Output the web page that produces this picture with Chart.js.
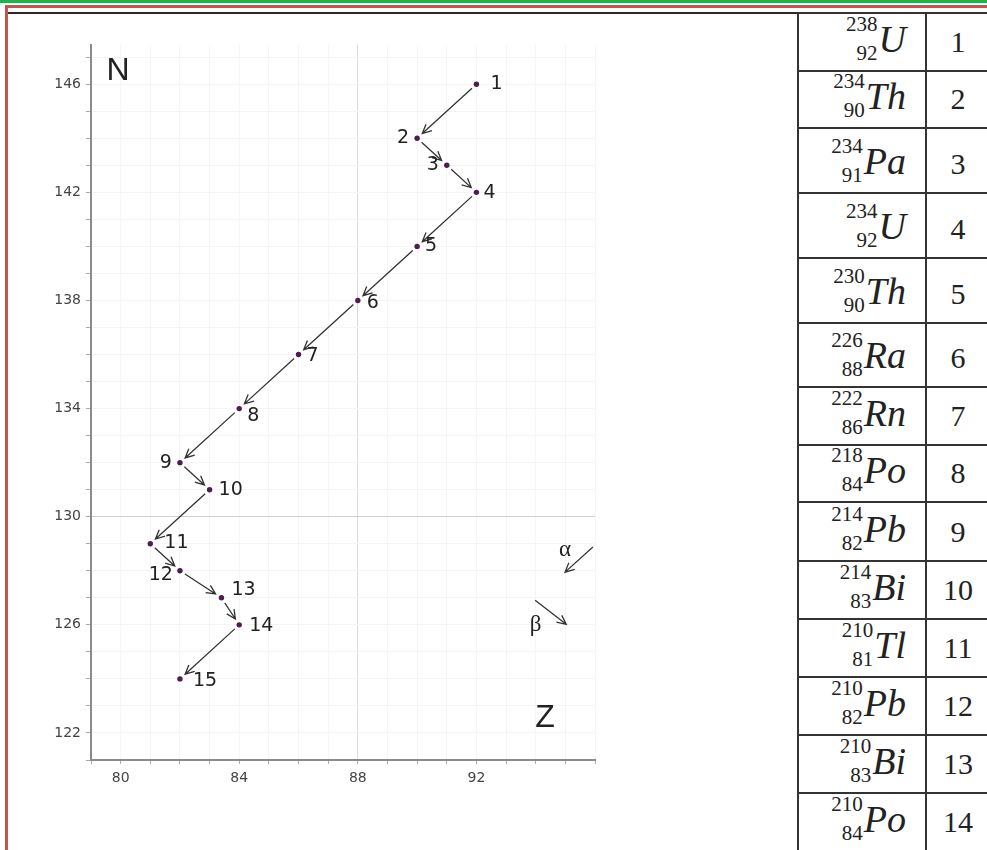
<!DOCTYPE html>
<html lang="en">
<head>
<meta charset="UTF-8">
<title>U-238 decay chain</title>
<script src="https://cdn.jsdelivr.net/npm/chart.js"></script>
<style>
    body { margin: 0; background: #fff; width: 987px; height: 850px; overflow: hidden; position: relative; }
    .bar { position: absolute; }
    .green { left: 0; top: 0; width: 987px; height: 3px; background: #22b14c; }
    .red-top { left: 5px; top: 5px; width: 982px; height: 3px; background: #c9514e; }
    .red-left { left: 5px; top: 5px; width: 3px; height: 845px; background: #c9514e; }
    .black { left: 8px; top: 12px; width: 979px; height: 2px; background: #2a2a2a; }
    #chartBox { position: absolute; left: 10px; top: 10px; width: 600px; height: 800px; }
    .trow { position: absolute; left: 797px; width: 200px; border-top: 2px solid #333; box-sizing: border-box; }
    .cnuc { position: absolute; left: 0; top: 0; bottom: 0; width: 130px; box-sizing: border-box;
            border-left: 2px solid #333; border-right: 2px solid #333;
            display: flex; justify-content: flex-end; align-items: flex-end;
            padding: 0 19px 2px 0; font-family: "Liberation Serif", serif; color: #222; }
    .ms { display: flex; flex-direction: column; align-items: flex-end; font-size: 21px; line-height: 29px; margin-right: 1px; }
    .sym { font-size: 38px; line-height: 38px; font-style: italic; margin-bottom: 10px; }
    .cnum { position: absolute; left: 130px; top: 0; bottom: 0; right: 0; box-sizing: border-box;
            display: flex; justify-content: center; align-items: flex-end; padding: 0 0 13px 0;
            width: 62px; font-family: "Liberation Serif", serif; font-size: 30px; line-height: 30px; color: #222; }
</style>
</head>
<body>
<div class="bar green"></div>
<div class="bar red-top"></div>
<div class="bar red-left"></div>
<div class="bar black"></div>
<div id="chartBox"><canvas id="decayChart"></canvas></div>
<div id="table"></div>
<script>
    // 衰變鏈各點 (Z, N)
    var zValues = [92, 90, 91, 92, 90, 88, 86, 84, 82, 83, 81, 82, 83.4, 84, 82];
    var nValues = [146, 144, 143, 142, 140, 138, 136, 134, 132, 131, 129, 128, 127, 126, 124];
    var pointLabels = ['1', '2', '3', '4', '5', '6', '7', '8', '9', '10', '11', '12', '13', '14', '15'];
    var zTicks = [80, 84, 88, 92];
    var nTicks = [122, 126, 130, 134, 138, 142, 146];

    // 右側表格
    var tableIndex = [1, 2, 3, 4, 5, 6, 7, 8, 9, 10, 11, 12, 13, 14];
    var massNumbers = [238, 234, 234, 234, 230, 226, 222, 218, 214, 214, 210, 210, 210, 210];
    var atomicNumbers = [92, 90, 91, 92, 90, 88, 86, 84, 82, 83, 81, 82, 83, 84];
    var symbols = ['U', 'Th', 'Pa', 'U', 'Th', 'Ra', 'Rn', 'Po', 'Pb', 'Bi', 'Tl', 'Pb', 'Bi', 'Po'];

    // 圖例箭頭 α / β : [起點Z, 起點N, 終點Z, 終點N, 文字Z, 文字N]
    var alphaKey = [95.93, 128.88, 94.99, 127.95, 94.99, 128.77];
    var betaKey = [93.98, 126.91, 95.03, 126.02, 94.0, 125.98];

    // layout only
    var labelPos = [[14, 0, 'left'], [-8, 0, 'right'], [-8, 0, 'right'], [7, 1, 'left'], [8, 0, 'left'],
        [9, 3, 'left'], [8, 2, 'left'], [8, 7, 'left'], [-8, 0, 'right'], [9, 0, 'left'],
        [14, -1, 'left'], [-7, 4, 'right'], [10, -8, 'left'], [10, 1, 'left'], [13, 2, 'left']];
    var rowTops = [12, 70, 127, 192, 257, 322, 386, 444, 501, 560, 618, 676, 734, 792];
    var rowHeights = [58, 57, 65, 65, 65, 64, 58, 57, 59, 58, 58, 58, 58, 58];

    // 表格
    var tableHTML = '';
    tableIndex.forEach(function (item, key) {
        tableHTML += '<div class="trow" style="top:' + rowTops[key] + 'px;height:' + rowHeights[key] + 'px">' +
            '<div class="cnuc"><span class="ms"><span>' + massNumbers[key] + '</span><span>' + atomicNumbers[key] + '</span></span>' +
            '<span class="sym">' + symbols[key] + '</span></div>' +
            '<div class="cnum">' + item + '</div></div>';
    });
    document.getElementById('table').innerHTML = tableHTML;

    function drawArrow(ctx, x1, y1, x2, y2, gap1, gap2) {
        var a = Math.atan2(y2 - y1, x2 - x1);
        var sx = x1 + gap1 * Math.cos(a), sy = y1 + gap1 * Math.sin(a);
        var ex = x2 - gap2 * Math.cos(a), ey = y2 - gap2 * Math.sin(a);
        ctx.beginPath();
        ctx.moveTo(sx, sy);
        ctx.lineTo(ex, ey);
        ctx.moveTo(ex - 10 * Math.cos(a - 0.45), ey - 10 * Math.sin(a - 0.45));
        ctx.lineTo(ex, ey);
        ctx.lineTo(ex - 10 * Math.cos(a + 0.45), ey - 10 * Math.sin(a + 0.45));
        ctx.stroke();
    }

    var decayPlugin = {
        id: 'decayArrows',
        afterDatasetsDraw: function (chart) {
            var ctx = chart.ctx;
            var xs = chart.scales.x, ys = chart.scales.y;
            var area = chart.chartArea;
            ctx.save();
            ctx.strokeStyle = '#333';
            ctx.lineWidth = 1.3;
            for (var i = 0; i < zValues.length - 1; i++) {
                drawArrow(ctx, xs.getPixelForValue(zValues[i]), ys.getPixelForValue(nValues[i]),
                    xs.getPixelForValue(zValues[i + 1]), ys.getPixelForValue(nValues[i + 1]), 6, 7);
            }
            [alphaKey, betaKey].forEach(function (k) {
                drawArrow(ctx, xs.getPixelForValue(k[0]), ys.getPixelForValue(k[1]),
                    xs.getPixelForValue(k[2]), ys.getPixelForValue(k[3]), 0, 0);
            });
            // 點編號
            ctx.fillStyle = '#222';
            ctx.font = '19px "DejaVu Sans"';
            ctx.textBaseline = 'middle';
            pointLabels.forEach(function (item, key) {
                ctx.textAlign = labelPos[key][2];
                ctx.fillText(item, xs.getPixelForValue(zValues[key]) + labelPos[key][0],
                    ys.getPixelForValue(nValues[key]) + labelPos[key][1]);
            });
            ctx.font = '23px "Liberation Serif"';
            ctx.textAlign = 'center';
            ctx.fillText('α', xs.getPixelForValue(alphaKey[4]), ys.getPixelForValue(alphaKey[5]));
            ctx.fillText('β', xs.getPixelForValue(betaKey[4]), ys.getPixelForValue(betaKey[5]));
            // 軸名
            ctx.font = '32px "Liberation Sans"';
            ctx.fillText('N', area.left + 27, area.top + 26);
            ctx.fillText('Z', area.right - 50, area.bottom - 42);
            ctx.restore();
        }
    };

    var ctx01 = document.getElementById('decayChart');
    var chart01 = new Chart(ctx01, {
        type: 'scatter',
        data: {
            datasets: [{
                data: zValues.map(function (z, i) { return { x: z, y: nValues[i] }; }),
                pointRadius: 2.7,
                pointBackgroundColor: '#4e1c4e',
                pointBorderWidth: 0
            }]
        },
        options: {
            responsive: true,
            maintainAspectRatio: false,
            animation: false,
            events: [],
            layout: { padding: { left: 0, right: 15, top: 35, bottom: 10 } },
            plugins: { legend: { display: false }, tooltip: { enabled: false } },
            scales: {
                x: {
                    type: 'linear',
                    min: 79, max: 96,
                    afterFit: function (s) { s.height = 40; },
                    border: { display: true, color: '#8a8a8a', width: 2 },
                    grid: {
                        color: function (c) { return c.tick && c.tick.value === 88 ? '#dcdcdc' : '#f5f5f5'; },
                        tickLength: 4,
                        tickColor: '#aaa'
                    },
                    ticks: {
                        stepSize: 1,
                        autoSkip: false,
                        maxRotation: 0,
                        includeBounds: false,
                        padding: 6,
                        color: '#444',
                        font: { family: 'DejaVu Sans', size: 14 },
                        callback: function (v) { return zTicks.indexOf(v) >= 0 ? String(v) : ''; }
                    }
                },
                y: {
                    type: 'linear',
                    min: 121, max: 147.45,
                    afterFit: function (s) { s.width = 81; },
                    border: { display: true, color: '#8a8a8a', width: 2 },
                    grid: {
                        color: function (c) { return c.tick && c.tick.value === 130 ? '#cfcfcf' : '#f5f5f5'; },
                        tickLength: 5,
                        tickColor: '#aaa'
                    },
                    ticks: {
                        stepSize: 1,
                        autoSkip: false,
                        includeBounds: false,
                        padding: 5,
                        color: '#444',
                        font: { family: 'DejaVu Sans', size: 14 },
                        callback: function (v) { return nTicks.indexOf(v) >= 0 ? String(v) : ''; }
                    }
                }
            }
        },
        plugins: [decayPlugin]
    });
</script>
</body>
</html>
